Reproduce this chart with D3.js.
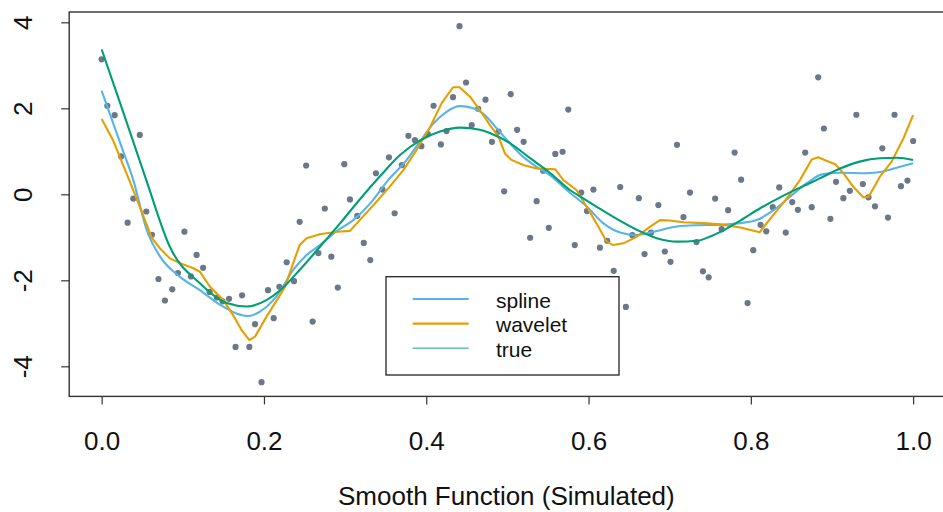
<!DOCTYPE html>
<html>
<head>
<meta charset="utf-8">
<script src="https://cdn.jsdelivr.net/npm/d3@7"></script>
<style>
body { margin: 0; background: #fff; }
text { font-family: "Liberation Sans", Arial, Helvetica, sans-serif; fill: #111; }
</style>
</head>
<body>
<svg id="svg"></svg>
<script>

// DATA

var pointX = [0.000,0.007,0.016,0.024,0.032,0.039,0.047,0.055,0.062,0.070,0.078,0.087,0.094,0.102,0.110,0.117,
  0.125,0.133,0.142,0.149,0.157,0.165,0.173,0.182,0.189,0.197,0.205,0.212,0.219,0.228,0.237,0.244,
  0.252,0.260,0.267,0.275,0.283,0.291,0.299,0.306,0.315,0.323,0.331,0.338,0.346,0.354,0.361,0.370,
  0.378,0.386,0.394,0.402,0.409,0.418,0.425,0.433,0.441,0.449,0.456,0.464,0.473,0.481,0.489,0.496,
  0.504,0.512,0.520,0.528,0.536,0.544,0.551,0.559,0.568,0.575,0.583,0.591,0.598,0.606,0.614,0.623,
  0.631,0.639,0.646,0.654,0.662,0.669,0.677,0.686,0.694,0.701,0.709,0.717,0.725,0.733,0.741,0.748,
  0.756,0.764,0.772,0.780,0.788,0.796,0.803,0.812,0.819,0.827,0.835,0.843,0.851,0.858,0.867,0.875,
  0.883,0.890,0.898,0.905,0.914,0.922,0.930,0.938,0.945,0.953,0.962,0.969,0.977,0.985,0.993,1.000];

var pointY = [3.14,2.06,1.84,0.88,-0.66,-0.10,1.38,-0.40,-0.94,-1.97,-2.47,-2.21,-1.83,-0.87,-1.91,-1.41,
  -1.71,-2.27,-2.40,-2.49,-2.43,-3.55,-2.35,-3.55,-3.02,-4.37,-2.23,-2.88,-2.15,-1.58,-2.02,-0.64,
  0.67,-2.96,-1.37,-0.33,-1.45,-2.17,0.70,-0.12,-0.50,-1.13,-1.53,0.49,0.11,0.86,-0.44,0.68,
  1.36,1.26,1.12,1.40,2.06,1.16,1.47,2.26,3.91,2.60,1.61,1.99,2.20,1.22,1.46,0.07,
  2.33,1.50,1.22,-1.01,-0.16,0.55,-0.78,0.94,0.99,1.97,-1.18,0.04,-0.39,0.11,-1.24,-1.08,
  -1.78,0.17,-2.62,-0.95,-0.09,-1.39,-0.89,-0.25,-1.33,-1.57,1.15,-0.53,0.04,-1.11,-1.79,-1.93,
  -0.10,-0.81,-0.37,0.97,0.34,-2.53,-1.30,-0.71,-0.86,-0.30,0.16,-0.89,-0.18,-0.36,0.97,-0.30,
  2.72,1.53,-0.57,0.29,-0.09,0.08,1.85,0.24,-0.07,-0.28,1.07,-0.54,1.85,0.19,0.32,1.24];

var splineX = [0,0.025,0.039,0.0555,0.072,0.0965,0.121,0.146,0.166,0.181,0.195,0.2115,0.22,0.236,0.2526,0.269,
  0.29,0.31,0.331,0.353,0.376,0.392,0.409,0.425,0.4415,0.458,0.47,0.487,0.503,0.5195,0.536,0.552,
  0.573,0.598,0.618,0.639,0.659,0.68,0.709,0.733,0.762,0.787,0.807,0.828,0.848,0.869,0.889,0.91,
  0.943,0.963,0.984,1.0];
var splineY = [2.41,1.08,0.33,-0.83,-1.45,-1.92,-2.23,-2.57,-2.77,-2.83,-2.73,-2.46,-2.25,-1.76,-1.41,-1.18,
  -0.85,-0.6,-0.21,0.33,0.8,1.22,1.65,1.92,2.05,2.0,1.88,1.53,1.19,0.87,0.64,0.45,
  0.1,-0.29,-0.67,-0.89,-0.95,-0.87,-0.75,-0.72,-0.71,-0.67,-0.6,-0.37,-0.06,0.26,0.47,0.5,
  0.49,0.53,0.64,0.72];

var waveletX = [0,0.014,0.034,0.047,0.062,0.072,0.084,0.0965,0.113,0.121,0.1335,0.15,0.162,0.1725,0.182,0.189,
  0.203,0.22,0.226,0.236,0.244,0.2526,0.269,0.29,0.306,0.318,0.335,0.355,0.372,0.388,0.405,0.419,
  0.433,0.441,0.454,0.466,0.4785,0.489,0.497,0.505,0.5195,0.536,0.559,0.569,0.585,0.600,0.612,0.622,
  0.630,0.643,0.659,0.676,0.688,0.700,0.717,0.741,0.762,0.787,0.811,0.826,0.843,0.8605,0.875,0.883,
  0.893,0.904,0.914,0.926,0.9385,0.945,0.959,0.9735,0.988,1.0];
var waveletY = [1.75,1.26,0.33,-0.29,-1.02,-1.26,-1.49,-1.6,-1.72,-1.80,-2.15,-2.46,-2.81,-3.16,-3.39,-3.31,
  -2.85,-2.34,-2.15,-1.6,-1.18,-1.02,-0.93,-0.87,-0.85,-0.6,-0.25,0.18,0.57,1.03,1.57,2.12,
  2.49,2.49,2.27,1.96,1.61,1.34,0.95,0.8,0.68,0.6,0.58,0.33,0.1,-0.36,-0.75,-1.09,
  -1.18,-1.14,-0.99,-0.75,-0.6,-0.61,-0.65,-0.67,-0.70,-0.77,-0.88,-0.52,-0.13,0.33,0.81,0.86,
  0.78,0.7,0.49,0.18,-0.07,-0.06,0.41,0.76,1.30,1.84];

var trueX = [0,0.025,0.055,0.084,0.121,0.154,0.179,0.203,0.220,0.244,0.269,0.294,0.318,0.343,0.368,0.392,
  0.417,0.442,0.466,0.479,0.503,0.528,0.553,0.577,0.593,0.610,0.630,0.660,0.684,0.709,0.734,0.750,
  0.762,0.787,0.811,0.836,0.861,0.885,0.910,0.934,0.959,0.980,1.0];
var trueY = [3.37,2.0,0.33,-1.22,-2.07,-2.53,-2.61,-2.46,-2.23,-1.76,-1.22,-0.67,-0.12,0.42,0.92,1.25,
  1.46,1.55,1.5,1.42,1.19,0.84,0.49,0.10,-0.09,-0.29,-0.52,-0.83,-1.02,-1.10,-1.08,-0.98,
  -0.88,-0.61,-0.33,-0.07,0.16,0.37,0.6,0.76,0.84,0.85,0.8];

var xTicks = [0, 0.2, 0.4, 0.6, 0.8, 1.0];
var yTicks = [-4, -2, 0, 2, 4];
var legendLabels = ["spline", "wavelet", "true"];
var xLabel = "Smooth Function (Simulated)";

// LAYOUT

var W = 943, H = 512;
var plotL = 69.2, plotR = 945.6, plotT = 12, plotB = 396.4;

svg = d3.select("#svg")
          .attr("width", W)
          .attr("height", H);

x = d3.scaleLinear().domain([-0.04, 1.04]).range([plotL, plotR]);
y = d3.scaleLinear().domain([-4.70, 4.24]).range([plotB, plotT]);

function pairs(xs, ys){ return xs.map(function(d,i){ return [d, ys[i]]; }); }

// points
svg.append("g").selectAll("circle")
  .data(pairs(pointX, pointY)).enter()
  .append("circle")
    .attr("cx", d => x(d[0]))
    .attr("cy", d => y(d[1]))
    .attr("r", 3.1)
    .attr("fill", "#6b7888");

// fitted lines
var series = [
  {name: "spline",  data: pairs(splineX, splineY),   color: "#56B4E9", curve: d3.curveMonotoneX},
  {name: "wavelet", data: pairs(waveletX, waveletY), color: "#E69F00", curve: d3.curveLinear},
  {name: "true",    data: pairs(trueX, trueY),       color: "#009E73", curve: d3.curveMonotoneX}
];

series.forEach(function(s){
  var line = d3.line().x(d => x(d[0])).y(d => y(d[1])).curve(s.curve);
  svg.append("path")
    .attr("d", line(s.data))
    .attr("fill", "none")
    .attr("stroke", s.color)
    .attr("stroke-width", 2.1)
    .attr("stroke-linejoin", "round");
});

// axes
xAxis = svg.append("g")
  .attr("transform", "translate(0," + plotB + ")")
  .call(d3.axisBottom(x).tickValues(xTicks).tickSize(8).tickPadding(0).tickFormat(d3.format(".1f")));
xAxis.select(".domain").remove();
xAxis.selectAll("text")
  .attr("y", 53.6).attr("dy", 0)
  .attr("font-size", 26).attr("font-family", null);

// R prints a plain hyphen for negatives
yAxis = svg.append("g")
  .attr("transform", "translate(" + plotL + ",0)")
  .call(d3.axisLeft(y).tickValues(yTicks).tickSize(8).tickFormat(d => String(d)));
yAxis.select(".domain").remove();
yAxis.selectAll("text")
  .attr("x", 0).attr("dy", 0)
  .attr("text-anchor", "middle")
  .attr("transform", "translate(" + (32 - plotL) + ",0) rotate(-90)")
  .attr("font-size", 26).attr("font-family", null);

svg.selectAll(".tick line").attr("stroke", "#333").attr("stroke-width", 1.2);

// frame
svg.append("rect")
  .attr("x", plotL).attr("y", plotT)
  .attr("width", plotR - plotL).attr("height", plotB - plotT)
  .attr("fill", "none").attr("stroke", "#333").attr("stroke-width", 1.4);

// x label
svg.append("text")
  .attr("x", (plotL + plotR) / 2 - 1)
  .attr("y", 505)
  .attr("text-anchor", "middle")
  .attr("font-size", 26)
  .text(xLabel);

// legend
var leg = svg.append("g").attr("transform", "translate(386,276.7)");
leg.append("rect")
  .attr("width", 233).attr("height", 98.3)
  .attr("fill", "#fff").attr("stroke", "#222").attr("stroke-width", 1.3);

var legRows = leg.selectAll(".row").data(series).enter()
  .append("g").attr("class", "row")
  .attr("transform", (d,i) => "translate(0," + (22.3 + i * 24.6) + ")");
legRows.append("line")
  .attr("x1", 26.7).attr("x2", 82.7)
  .attr("stroke", d => d.color)
  .attr("stroke-width", (d,i) => i === 2 ? 1.3 : 2.1)
  .attr("stroke-opacity", (d,i) => i === 2 ? 0.75 : 1);
legRows.append("text")
  .attr("x", 110).attr("y", 8.5)
  .attr("font-size", 21)
  .text((d,i) => legendLabels[i]);

</script>
</body>
</html>
